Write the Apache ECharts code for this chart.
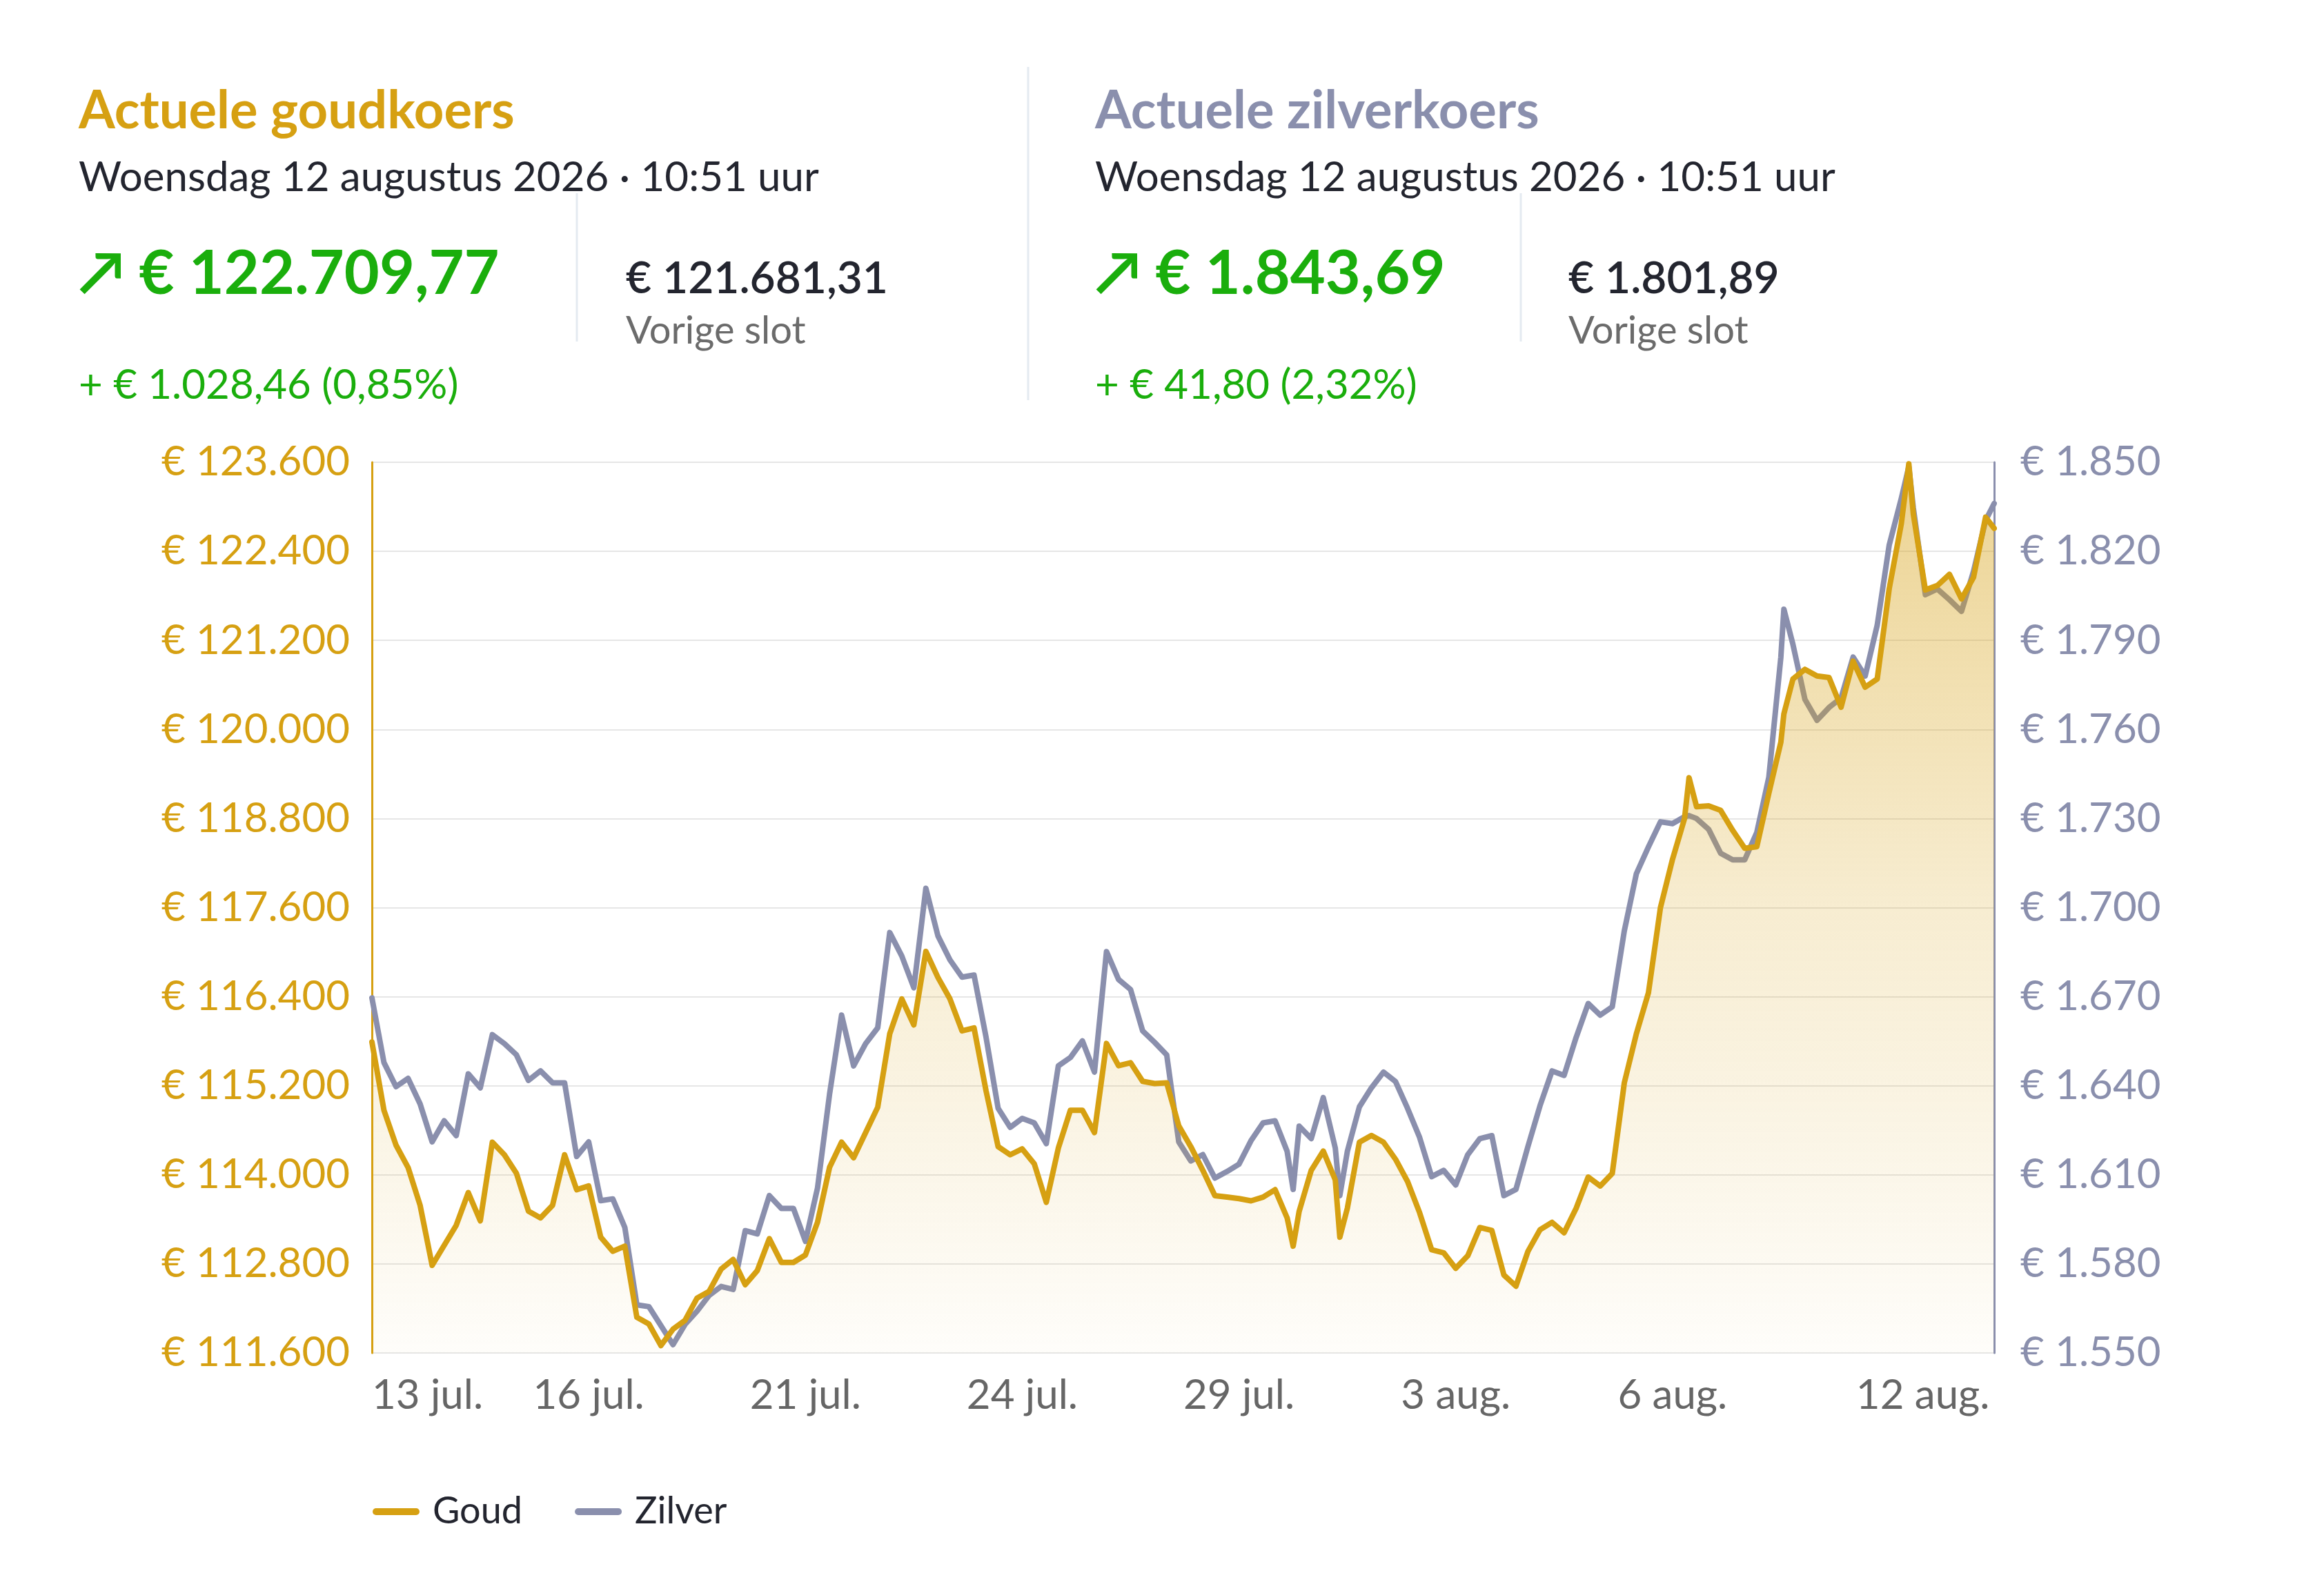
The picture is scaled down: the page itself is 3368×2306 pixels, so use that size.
<!DOCTYPE html>
<html>
<head>
<meta charset="utf-8">
<title>Actuele goud- en zilverkoers</title>
<script src="https://cdn.jsdelivr.net/npm/echarts@6/dist/echarts.min.js"></script>
<style>
html, body { margin: 0; padding: 0; background: #fff; }
#koers-chart { width: 3368px; height: 2306px; }
</style>
</head>
<body>
<div id="koers-chart"></div>
<script>
// uren sinds 13 jul. 00:00, alleen handelsdagen (24 uur per dag)
var uren = [
	0, 4, 8, 12, 16, 20, 24, 28, 32, 36,
	40, 44, 48, 52, 56, 60, 64, 68, 72, 76,
	80, 84, 88, 92, 96, 100, 104, 108, 112, 116,
	120, 124, 128, 132, 136, 140, 144, 148, 152, 156,
	160, 164, 168, 172, 176, 180, 184, 188, 192, 196,
	200, 204, 208, 212, 216, 220, 224, 228, 232, 236,
	240, 244, 248, 252, 256, 260, 264, 268, 272, 276,
	280, 284, 288, 292, 296, 300, 304, 306, 308, 312,
	316, 320, 321.5, 324, 328, 332, 336, 340, 344, 348,
	352, 356, 360, 364, 368, 372, 376, 380, 384, 388,
	392, 396, 400, 404, 408, 412, 416, 420, 424, 428,
	432, 436, 437.5, 440, 444, 448, 452, 456, 460, 464, 468, 469,
	472, 476, 480, 484, 488, 492, 496, 500, 504, 508,
	510.5, 512, 516, 520, 524, 528, 532, 536, 538.85
];
var goud = [
	115790, 114870, 114400, 114100, 113590, 112780, 113050, 113320, 113760, 113380,
	114440, 114270, 114020, 113510, 113420, 113590, 114270, 113800, 113850, 113160,
	112970, 113040, 112080, 111990, 111700, 111920, 112040, 112340, 112430, 112730,
	112860, 112520, 112710, 113140, 112820, 112820, 112920, 113360, 114100, 114440,
	114230, 114570, 114910, 115900, 116370, 116020, 117010, 116660, 116370, 115940,
	115980, 115130, 114380, 114270, 114350, 114150, 113630, 114360, 114870, 114870,
	114570, 115770, 115470, 115510, 115260, 115230, 115240, 114660, 114380, 114060,
	113720, 113700, 113680, 113650, 113700, 113800, 113420, 113040, 113510, 114060,
	114320, 113930, 113160, 113550, 114440, 114530, 114440, 114210, 113910, 113490,
	112990, 112950, 112740, 112910, 113290, 113250, 112650, 112500, 112970, 113260,
	113360, 113220, 113550, 113970, 113850, 114020, 115240, 115900, 116450, 117600,
	118250, 118800, 119350, 118960, 118970, 118910, 118640, 118400, 118420, 119140, 119830, 120210,
	120680, 120810, 120720, 120700, 120300, 120920, 120570, 120680, 121900, 122770,
	123580, 122900, 121880, 121940, 122090, 121760, 122050, 122860, 122710
];
var zilver = [
	1669.6, 1647.8, 1639.7, 1642.5, 1633.9, 1621.1, 1628.2, 1623.2, 1644.0, 1639.3,
	1657.2, 1654.2, 1650.4, 1641.8, 1645.0, 1641.0, 1641.0, 1616.2, 1621.1, 1601.3,
	1601.9, 1592.3, 1566.2, 1565.6, 1559.2, 1552.8, 1559.6, 1564.1, 1569.4, 1572.4,
	1571.4, 1591.2, 1590.1, 1603.0, 1598.7, 1598.7, 1587.6, 1605.5, 1637.1, 1663.8,
	1646.7, 1654.2, 1659.5, 1691.6, 1683.7, 1673.0, 1706.5, 1690.5, 1682.4, 1676.6,
	1677.3, 1656.3, 1632.4, 1626.0, 1629.0, 1627.5, 1620.5, 1646.7, 1649.5, 1655.1,
	1644.6, 1685.2, 1675.8, 1672.4, 1658.5, 1654.6, 1650.4, 1621.1, 1614.7, 1616.8,
	1608.9, 1611.1, 1613.6, 1621.5, 1627.5, 1628.2, 1617.9, 1605.1, 1626.4, 1622.2,
	1636.0, 1619.0, 1603.0, 1617.9, 1632.9, 1639.3, 1644.6, 1641.4, 1632.4, 1622.6,
	1609.4, 1611.5, 1606.6, 1616.8, 1622.2, 1623.2, 1603.0, 1605.1, 1619.6, 1633.3,
	1645.0, 1643.5, 1656.3, 1667.7, 1663.8, 1666.6, 1692.2, 1711.4, 1720.4, 1728.9,
	1728.3, 1730.6, 1731.0, 1730.0, 1726.4, 1718.3, 1716.1, 1716.1, 1725.3, 1743.9, 1784.4, 1800.5,
	1788.7, 1770.1, 1763.1, 1767.4, 1770.6, 1784.4, 1778.0, 1795.1, 1822.2, 1837.8,
	1848.5, 1834.6, 1805.4, 1807.3, 1803.7, 1799.8, 1813.3, 1830.4, 1836.1
];
// datumlabels op de x-as
var labelUren = [0, 72, 144, 216, 288, 360, 432, 528];
var labelTeksten = ['13 jul.', '16 jul.', '21 jul.', '24 jul.', '29 jul.', '3 aug.', '6 aug.', '12 aug.'];
// assen
var goudAs = [111600, 123600, 1200];
var zilverAs = [1550, 1850, 30];

var goudKleur = '#d6a012';
var zilverKleur = '#8a8fad';
var groen = '#1aae0c';
var donker = '#23252f';

function euro(v) {
	return '€ ' + String(v).replace(/\B(?=(\d{3})+(?!\d))/g, '.');
}

function koersBlok(x, vorigeX, lijnX, titel, kleur, koers, vorige, verschil) {
	return [
		{type: 'text', x: x, y: 161, style: {text: titel, fill: kleur, font: 'bold 76px Lato', verticalAlign: 'middle'}},
		{type: 'text', x: x, y: 258, style: {text: 'Woensdag 12 augustus 2026 · 10:51 uur', fill: donker, font: '60px Lato', verticalAlign: 'middle'}},
		{type: 'text', x: x, y: 398, style: {text: '↗ ' + koers, fill: groen, font: 'bold 88px Lato', verticalAlign: 'middle'}},
		{type: 'text', x: vorigeX, y: 404, style: {text: vorige, fill: donker, font: '600 64px Lato', verticalAlign: 'middle'}},
		{type: 'text', x: vorigeX, y: 480, style: {text: 'Vorige slot', fill: '#6b6b6b', font: '56px Lato', verticalAlign: 'middle'}},
		{type: 'text', x: x, y: 559, style: {text: verschil, fill: groen, font: '60px Lato', verticalAlign: 'middle'}},
		{type: 'line', shape: {x1: lijnX, y1: 280, x2: lijnX, y2: 495}, style: {stroke: '#e4eaf1', lineWidth: 3}}
	];
}

var graphics = []
	.concat(koersBlok(114, 907, 836, 'Actuele goudkoers', goudKleur, '€ 122.709,77', '€ 121.681,31', '+ € 1.028,46 (0,85%)'))
	.concat(koersBlok(1587, 2273, 2204, 'Actuele zilverkoers', zilverKleur, '€ 1.843,69', '€ 1.801,89', '+ € 41,80 (2,32%)'));
graphics.push({type: 'line', shape: {x1: 1490, y1: 97, x2: 1490, y2: 580}, style: {stroke: '#e4eaf1', lineWidth: 3}});

var option = {
	animation: false,
	textStyle: {fontFamily: 'Lato'},
	grid: {left: 539, right: 478, top: 670, bottom: 345},
	legend: {
		data: ['Goud', 'Zilver'],
		left: 540,
		top: 2164,
		padding: 0,
		icon: 'path://M5,0 L63,0 A5,5 0 0 1 63,10 L5,10 A5,5 0 0 1 5,0 Z',
		itemWidth: 68,
		itemHeight: 10,
		itemGap: 76,
		textStyle: {fontSize: 54, color: donker, fontFamily: 'Lato', padding: [0, 0, 0, 14]}
	},
	graphic: graphics,
	xAxis: {
		type: 'value',
		min: 0,
		max: 538.85,
		axisLine: {show: false},
		axisTick: {show: false},
		splitLine: {show: false},
		axisLabel: {
			customValues: labelUren,
			formatter: function (v) {
				var i = labelUren.indexOf(v);
				if (i < 0) return '';
				// laatste label rechts uitlijnen op het einde van de as
				return i === labelUren.length - 1 ? '{r|' + labelTeksten[i] + '}' : labelTeksten[i];
			},
			rich: {
				r: {color: '#666', fontSize: 60, fontFamily: 'Lato', padding: [0, 112, 0, 0]}
			},
			color: '#666',
			fontSize: 60,
			fontFamily: 'Lato',
			margin: 32,
			alignMinLabel: 'left'
		}
	},
	yAxis: [{
		type: 'value',
		position: 'left',
		min: goudAs[0],
		max: goudAs[1],
		interval: goudAs[2],
		axisLine: {show: true, lineStyle: {color: goudKleur, width: 3}},
		axisTick: {show: false},
		axisLabel: {formatter: euro, color: goudKleur, fontSize: 60, fontFamily: 'Lato', margin: 32},
		splitLine: {show: true, lineStyle: {color: '#e6e6e6', width: 2}}
	}, {
		type: 'value',
		position: 'right',
		min: zilverAs[0],
		max: zilverAs[1],
		interval: zilverAs[2],
		axisLine: {show: true, lineStyle: {color: zilverKleur, width: 3}},
		axisTick: {show: false},
		axisLabel: {formatter: euro, color: zilverKleur, fontSize: 60, fontFamily: 'Lato', margin: 38},
		splitLine: {show: false}
	}],
	series: [{
		name: 'Goud',
		type: 'line',
		yAxisIndex: 0,
		z: 3,
		showSymbol: false,
		data: uren.map(function (h, i) { return [h, goud[i]]; }),
		itemStyle: {color: goudKleur},
		lineStyle: {color: goudKleur, width: 8, join: 'round', cap: 'round'},
		areaStyle: {
			color: new echarts.graphic.LinearGradient(0, 0, 0, 1, [
				{offset: 0, color: 'rgba(214,160,18,0.66)'},
				{offset: 0.5, color: 'rgba(214,160,18,0.28)'},
				{offset: 1, color: 'rgba(214,160,18,0.03)'}
			])
		}
	}, {
		name: 'Zilver',
		type: 'line',
		yAxisIndex: 1,
		z: 2,
		showSymbol: false,
		data: uren.map(function (h, i) { return [h, zilver[i]]; }),
		itemStyle: {color: zilverKleur},
		lineStyle: {color: zilverKleur, width: 8, join: 'round', cap: 'round'}
	}]
};

var myChart = echarts.init(document.getElementById('koers-chart'));
if (option && typeof option === 'object') {
	myChart.setOption(option, true);
}
</script>
</body>
</html>
